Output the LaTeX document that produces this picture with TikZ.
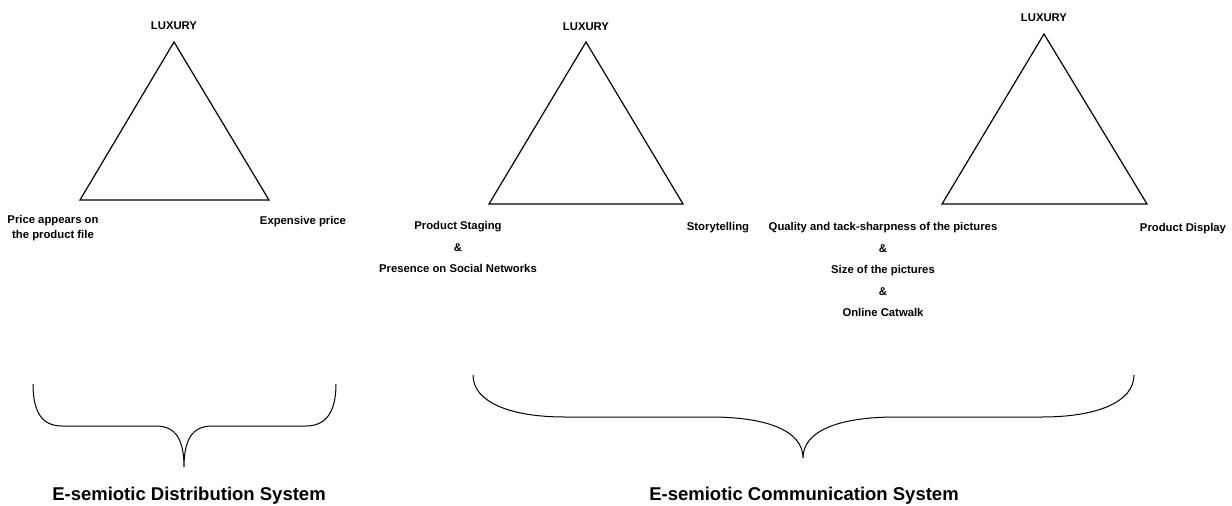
\documentclass[tikz,border=0pt]{standalone}
\usepackage{fontspec}
\setmainfont{Liberation Sans}
\tikzset{
  side/.style={line width=1.2pt,line join=miter},
  brace/.style={line width=1pt},
  vtx/.style={font=\bfseries\fontsize{11.3}{15}\selectfont,inner sep=0pt,align=center},
  pole/.style={vtx,font=\bfseries\fontsize{11.3}{21.5}\selectfont},
  sysname/.style={font=\bfseries\fontsize{18.5}{20}\selectfont,inner sep=0pt,anchor=base}
}

\begin{document}
\begin{tikzpicture}[x=1pt,y=-1pt]
  \useasboundingbox (0,0) rectangle (1232,506);

  % Distribution triangle
  \coordinate (dtop) at (174,42);
  \coordinate (dleft) at (80,200);
  \coordinate (dright) at (269,200);
  \draw[side] (dtop) -- (dleft) -- (dright) -- cycle;
  \node[vtx] (dlux) at (174,26) {LUXURY};
  \node[vtx,anchor=north] (dfile) at (53,215.5) {Price appears on\\the product file};
  \node[vtx,anchor=base] (dprice) at (303,224) {Expensive price};

  % Communication triangle (staging)
  \coordinate (ctop) at (586,42);
  \coordinate (cleft) at (489,204);
  \coordinate (cright) at (683,204);
  \draw[side] (ctop) -- (cleft) -- (cright) -- cycle;
  \node[vtx] (clux) at (586,27) {LUXURY};
  \node[pole,anchor=north] (cstage) at (458,221.5) {Product Staging\\\&\\Presence on Social Networks};
  \node[vtx,anchor=base] (cstory) at (718,230) {Storytelling};

  % Communication triangle (pictures)
  \coordinate (ptop) at (1044,34);
  \coordinate (pleft) at (942,204);
  \coordinate (pright) at (1147,204);
  \draw[side] (ptop) -- (pleft) -- (pright) -- cycle;
  \node[vtx] (plux) at (1044,18) {LUXURY};
  \node[pole,anchor=north] (ppics) at (883,222.5) {Quality and tack-sharpness of the pictures\\\&\\Size of the pictures\\\&\\Online Catwalk};
  \node[vtx,anchor=base] (pdisp) at (1183,231) {Product Display};

  % Braces
  \draw[brace] (33,384) .. controls (33,412) and (42,426) .. (62,426) -- (156,426)
    .. controls (176,426) and (184,440) .. (184,467)
    .. controls (184,440) and (192,426) .. (212,426) -- (306,426)
    .. controls (326,426) and (336,412) .. (336,384);
  \draw[brace] (473,375) .. controls (473,402) and (510,417) .. (565,417) -- (710,417)
    .. controls (770,417) and (803,432) .. (803,458)
    .. controls (803,432) and (836,417) .. (896,417) -- (1042,417)
    .. controls (1097,417) and (1134,402) .. (1134,375);
  \node[sysname] (dsys) at (189,500) {E-semiotic Distribution System};
  \node[sysname] (csys) at (804,500) {E-semiotic Communication System};
\end{tikzpicture}
\end{document}
